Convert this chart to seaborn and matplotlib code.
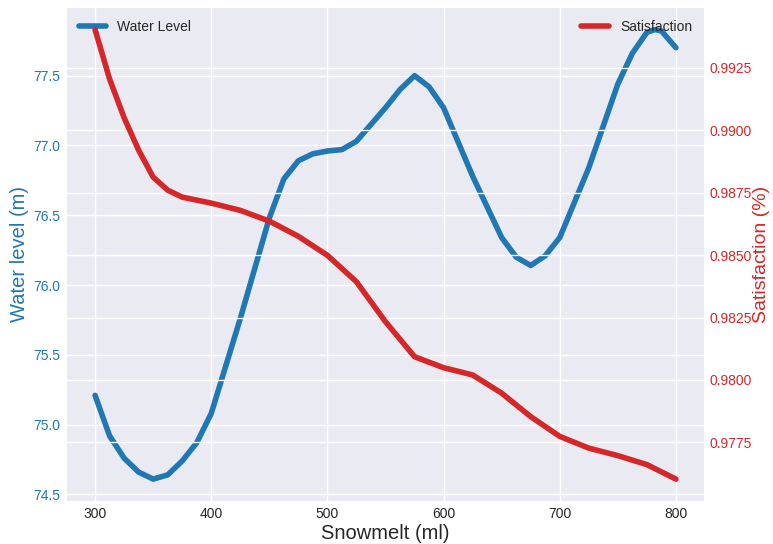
import pandas as pd
import seaborn as sns
import matplotlib
matplotlib.use("Agg")
import matplotlib.pyplot as plt

# values
snowmelt_w = [300, 312.5, 325, 337.5, 350, 362.5, 375, 387.5, 400, 425, 437.5, 450, 462.5,
              475, 487.5, 500, 512.5, 525, 537.5, 550, 562.5, 575, 587.5, 600, 625, 650,
              662.5, 675, 687.5, 700, 725, 750, 762.5, 775, 782, 787.5, 800]
water_level = [75.21, 74.92, 74.76, 74.66, 74.61, 74.64, 74.74, 74.87, 75.08, 75.76, 76.12,
               76.48, 76.76, 76.89, 76.94, 76.96, 76.97, 77.03, 77.15, 77.27, 77.40, 77.50,
               77.42, 77.27, 76.78, 76.34, 76.20, 76.14, 76.21, 76.34, 76.84, 77.44, 77.66,
               77.81, 77.83, 77.82, 77.70]

snowmelt_s = [300, 312.5, 325, 337.5, 350, 362.5, 375, 400, 425, 450, 475, 500, 525, 550,
              575, 600, 625, 650, 675, 700, 725, 750, 775, 800]
satisfaction = [0.99403, 0.99205, 0.99050, 0.98920, 0.98812, 0.98760, 0.98732, 0.98708,
                0.98679, 0.98636, 0.98575, 0.98499, 0.98393, 0.98233, 0.98093, 0.98049,
                0.98020, 0.97947, 0.97853, 0.97774, 0.97727, 0.97697, 0.97661, 0.97603]

df_w = pd.DataFrame({'snowmelt': snowmelt_w, 'water_level': water_level})
df_s = pd.DataFrame({'snowmelt': snowmelt_s, 'satisfaction': satisfaction})

sns.set_theme(style="darkgrid")
plt.rcParams['font.family'] = ['Liberation Sans', 'DejaVu Sans']
plt.rcParams['legend.frameon'] = False
blue = '#1f77b4'
red = '#d62728'

fig, ax1 = plt.subplots(figsize=(7.73, 5.44), dpi=100)
fig.subplots_adjust(left=0.0854, right=0.912, top=0.987, bottom=0.078)

sns.lineplot(data=df_w, x='snowmelt', y='water_level', color=blue, linewidth=4,
             label='Water Level', ax=ax1)
ax1.set_xlabel('Snowmelt (ml)', fontsize=14.5, labelpad=2)
ax1.set_ylabel('Water level (m)', color=blue, fontsize=14.5, labelpad=3)
ax1.tick_params(axis='y', labelcolor=blue, labelsize=10, length=0, pad=4)
ax1.tick_params(axis='x', labelsize=10, length=0, pad=4)
ax1.set_xticks([300, 400, 500, 600, 700, 800])
ax1.legend(loc='upper left', fontsize=10)

ax2 = ax1.twinx()
sns.lineplot(data=df_s, x='snowmelt', y='satisfaction', color=red, linewidth=4,
             label='Satisfaction', ax=ax2)
ax2.set_ylabel('Satisfaction (%)', color=red, fontsize=14, labelpad=1)
ax2.tick_params(axis='y', labelcolor=red, labelsize=10, length=0, pad=3)
ax2.legend(loc='upper right', fontsize=10)

plt.savefig('out.png')
